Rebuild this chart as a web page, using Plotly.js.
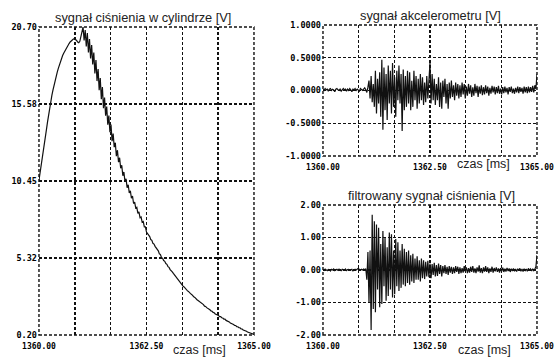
<!DOCTYPE html>
<html>
<head>
<meta charset="utf-8">
<script src="https://cdn.plot.ly/plotly-3.0.1.min.js"></script>
<style>html,body{margin:0;padding:0;background:#fff;}#chart{width:556px;height:359px;}</style>
</head>
<body>
<div id="chart"></div>
<script>
// sample start time [ms] and sample step [ms]
const T0 = 1360.0;
const DT = 0.025;

const titles = ["sygnał ciśnienia w cylindrze [V]", "sygnał akcelerometru [V]", "filtrowany sygnał ciśnienia [V]"];
const xLabel = "czas [ms]";

const xTickVals = [1360, 1360.8333, 1361.6667, 1362.5, 1363.3333, 1364.1667, 1365];
const xTickText = ["1360.00", "", "", "1362.50", "", "", "1365.00"];

const pTickVals = [0.20, 5.325, 10.45, 15.575, 20.70];
const pTickText = ["0.20", "5.32", "10.45", "15.58", "20.70"];
const aTickVals = [-1, -0.5, 0, 0.5, 1];
const aTickText = ["-1.0000", "-0.5000", "0.0000", "0.5000", "1.0000"];
const fTickVals = [-2, -1, 0, 1, 2];
const fTickText = ["-2.00", "-1.00", "0.00", "1.00", "2.00"];

// cylinder pressure signal [V]
const pressure = [
  10.5, 10.95, 11.4, 11.9, 12.4, 12.9, 13.4, 13.9, 14.4, 14.9,
  15.35, 15.75, 16.15, 16.5, 16.85, 17.15, 17.45, 17.7, 17.95, 18.2,
  18.4, 18.6, 18.8, 18.95, 19.1, 19.25, 19.4, 19.5, 19.6, 19.7,
  19.78, 19.85, 19.9, 19.92, 19.88, 19.8, 19.7, 19.65, 19.75, 20.1,
  20.5, 20.7, 19.8, 20.5, 19.4, 20.3, 19.0, 19.9, 18.6, 19.5,
  18.2, 19.0, 17.6, 18.5, 17.1, 17.9, 16.5, 17.3, 15.9, 16.7,
  15.3, 16.0, 14.8, 15.4, 14.2, 14.8, 13.7, 14.2, 13.1, 13.6,
  12.7, 13.0, 12.1, 12.5, 11.7, 12.0, 11.3, 11.5, 10.8, 11.05,
  10.4, 10.6, 10.0, 10.2, 9.65, 9.8, 9.3, 9.45, 8.95, 9.05,
  8.65, 8.7, 8.3, 8.4, 8.0, 8.05, 7.7, 7.75, 7.4, 7.4,
  7.05, 6.95, 6.8, 6.75, 6.55, 6.5, 6.3, 6.25, 6.1, 6.0,
  5.85, 5.8, 5.6, 5.55, 5.35, 5.3, 5.15, 5.1, 4.95, 4.9,
  4.75, 4.7, 4.55, 4.5, 4.4, 4.3, 4.2, 4.15, 4.0, 3.95,
  3.8, 3.75, 3.6, 3.55, 3.45, 3.4, 3.3, 3.25, 3.15, 3.1,
  3.0, 2.95, 2.9, 2.8, 2.75, 2.7, 2.6, 2.55, 2.5, 2.45,
  2.38, 2.35, 2.25, 2.22, 2.12, 2.1, 2.02, 1.98, 1.9, 1.88,
  1.8, 1.78, 1.7, 1.68, 1.6, 1.58, 1.52, 1.5, 1.42, 1.42,
  1.35, 1.33, 1.25, 1.25, 1.17, 1.15, 1.08, 1.07, 1.0, 0.98,
  0.92, 0.9, 0.84, 0.83, 0.76, 0.75, 0.68, 0.68, 0.6, 0.6,
  0.53, 0.52, 0.46, 0.45, 0.4, 0.38, 0.33, 0.32, 0.28, 0.27,
  0.24
];

// accelerometer signal [V]
const accel = [
  0.02, 0.00, 0.03, 0.01, 0.02, -0.01, 0.02, 0.03, 0.00, 0.02,
  0.01, -0.02, 0.02, 0.03, 0.01, 0.00, 0.02, -0.01, 0.01, 0.03,
  0.01, 0.02, -0.01, 0.02, 0.00, 0.03, 0.01, -0.02, 0.02, 0.01,
  0.03, 0.00, 0.02, 0.01, -0.01, 0.03, 0.02, 0.00, 0.02, 0.04,
  0.01, -0.03, 0.05, 0.15, -0.12, 0.22, -0.18, 0.10, -0.25, 0.30,
  -0.35, 0.18, -0.20, 0.28, -0.40, 0.47, -0.60, 0.35, -0.30, 0.25,
  -0.45, 0.38, -0.20, 0.30, -0.35, 0.42, -0.25, 0.20, -0.40, 0.30,
  -0.15, 0.38, -0.20, 0.25, -0.62, 0.32, -0.30, 0.22, -0.25, 0.30,
  -0.20, 0.28, -0.30, 0.15, -0.25, 0.30, -0.15, 0.22, -0.28, 0.18,
  -0.20, 0.25, -0.15, 0.20, -0.22, 0.12, -0.18, 0.22, -0.12, 0.15,
  0.42, -0.20, 0.25, -0.15, 0.18, -0.22, 0.10, -0.15, 0.20, -0.25,
  0.12, -0.28, 0.15, -0.10, 0.18, -0.20, 0.10, -0.28, 0.12, -0.12,
  0.15, -0.10, 0.08, -0.15, 0.12, -0.08, 0.10, -0.12, 0.08, -0.10,
  0.12, -0.06, 0.10, -0.12, 0.06, -0.08, 0.10, -0.05, 0.08, -0.10,
  0.05, -0.08, 0.10, -0.04, 0.07, -0.10, 0.06, -0.05, 0.08, -0.07,
  0.05, -0.06, 0.08, -0.04, 0.06, -0.08, 0.04, -0.05, 0.07, -0.03,
  0.06, -0.06, 0.05, -0.04, 0.07, -0.05, 0.03, -0.06, 0.05, -0.04,
  0.06, -0.03, 0.04, -0.06, 0.05, -0.02, 0.06, -0.04, 0.03, -0.05,
  0.04, -0.03, 0.06, -0.04, 0.05, -0.02, 0.04, -0.05, 0.06, -0.03,
  0.05, -0.04, 0.06, -0.03, 0.05, -0.02, 0.07, -0.03, 0.08, 0.02,
  0.25
];

// filtered pressure signal [V]
const filtered = [
  0.02, -0.01, 0.03, 0.00, -0.02, 0.02, 0.01, -0.03, 0.02, 0.00,
  0.03, -0.02, 0.01, 0.02, -0.01, 0.03, 0.00, -0.02, 0.02, 0.01,
  -0.01, 0.03, -0.02, 0.01, 0.02, -0.01, 0.00, 0.02, -0.03, 0.01,
  0.02, 0.00, 0.03, 0.05, 0.02, -0.01, 0.02, 0.00, 0.03, 0.01,
  0.04, -0.30, 0.55, -1.00, 0.60, -1.85, 1.70, -1.20, 1.50, -1.30,
  1.40, -0.60, 1.30, -1.15, 0.80, -1.05, 1.20, -0.50, 1.00, -0.95,
  0.70, -0.80, 1.15, -0.60, 1.10, -0.85, 0.60, -0.75, 0.95, -0.50,
  0.85, -0.65, 0.60, -0.55, 0.80, -0.45, 0.65, -0.50, 0.55, -0.40,
  0.60, -0.45, 0.45, -0.35, 0.50, -0.40, 0.35, -0.30, 0.42, -0.30,
  0.30, -0.35, 0.35, -0.25, 0.30, -0.28, 0.25, -0.20, 0.28, -0.22,
  0.20, -0.25, 0.18, -0.15, 0.22, -0.20, 0.15, -0.18, 0.20, -0.12,
  0.15, -0.20, 0.12, -0.10, 0.15, -0.12, 0.10, -0.15, 0.12, -0.08,
  0.10, -0.12, 0.08, -0.10, 0.12, -0.06, 0.10, -0.12, 0.08, -0.10,
  0.06, -0.08, 0.12, -0.05, 0.08, -0.10, 0.06, -0.08, 0.10, -0.06,
  0.12, -0.08, 0.05, -0.10, 0.08, -0.05, 0.14, -0.08, 0.06, -0.10,
  0.08, -0.05, 0.12, -0.06, 0.08, -0.10, 0.05, -0.06, 0.10, -0.08,
  0.06, -0.04, 0.08, -0.06, 0.05, -0.08, 0.06, -0.04, 0.07, -0.06,
  0.04, -0.05, 0.06, -0.03, 0.05, -0.06, 0.04, -0.03, 0.05, -0.04,
  0.03, -0.05, 0.04, -0.02, 0.05, -0.04, 0.03, -0.05, 0.04, -0.02,
  0.03, -0.04, 0.05, -0.02, 0.03, -0.03, 0.04, -0.02, 0.03, 0.10,
  0.45
];

const lineStyle = {color: '#111', width: 1.2};
const traces = [
  {type: 'scatter', mode: 'lines', y: pressure, x0: T0, dx: DT, xaxis: 'x', yaxis: 'y', line: lineStyle, hoverinfo: 'skip'},
  {type: 'scatter', mode: 'lines', y: accel, x0: T0, dx: DT, xaxis: 'x2', yaxis: 'y2', line: lineStyle, hoverinfo: 'skip'},
  {type: 'scatter', mode: 'lines', y: filtered, x0: T0, dx: DT, xaxis: 'x3', yaxis: 'y3', line: lineStyle, hoverinfo: 'skip'}
];

const xTickFont = {family: 'DejaVu Sans Mono', size: 8, color: '#000', weight: 'bold'};
const yTickFont = {family: 'DejaVu Sans Mono', size: 8.5, color: '#000', weight: 'bold'};
const gridCol = '#111';
function xAx(anchor, domain) {
  return {domain: domain, anchor: anchor, range: [1360, 1365], tickmode: 'array',
    tickvals: xTickVals, ticktext: xTickText, showgrid: true, gridcolor: gridCol,
    griddash: '3px,2px', gridwidth: 1.4, zeroline: false, showline: false, ticks: '',
    tickfont: xTickFont, ticklabelstandoff: 5, fixedrange: true};
}
function yAx(anchor, domain, range, vals, text) {
  return {domain: domain, anchor: anchor, range: range, tickmode: 'array',
    tickvals: vals, ticktext: text, showgrid: true, gridcolor: gridCol,
    griddash: '3px,2px', gridwidth: 1.4, zeroline: false, showline: false, ticks: '',
    tickfont: yTickFont, ticklabelstandoff: 1, fixedrange: true};
}

const titleFont = {family: 'Liberation Sans, Arial, sans-serif', size: 12.8, color: '#222'};
const labelFont = {family: 'Liberation Sans, Arial, sans-serif', size: 12.5, color: '#222'};
function note(text, x, y, font) {
  return {text: text, xref: 'paper', yref: 'paper', x: x, y: y, xanchor: 'center', yanchor: 'middle', showarrow: false, font: font};
}

const borderLine = {color: gridCol, width: 1.4, dash: '3px,2px'};
function border(xr, yr) {
  return {type: 'rect', xref: xr + ' domain', yref: yr + ' domain', x0: 0, x1: 1, y0: 0, y1: 1, line: borderLine, fillcolor: 'rgba(0,0,0,0)'};
}

const layout = {
  width: 556, height: 359,
  margin: {l: 0, r: 0, t: 0, b: 0},
  paper_bgcolor: '#fff', plot_bgcolor: '#fff',
  showlegend: false,
  xaxis: xAx('y', [0.0701, 0.4568]),
  yaxis: yAx('x', [0.0669, 0.9248], [0.20, 20.70], pTickVals, pTickText),
  xaxis2: xAx('y2', [0.5809, 0.9658]),
  yaxis2: yAx('x2', [0.5655, 0.9304], [-1, 1], aTickVals, aTickText),
  xaxis3: xAx('y3', [0.5809, 0.9658]),
  yaxis3: yAx('x3', [0.0669, 0.4290], [-2, 2], fTickVals, fTickText),
  annotations: [
    note(titles[0], 0.2563, 0.9526, titleFont),
    note(titles[1], 0.7734, 0.9582, titleFont),
    note(titles[2], 0.7761, 0.4568, titleFont),
    note(xLabel, 0.3597, 0.0250, labelFont),
    note(xLabel, 0.8705, 0.5440, labelFont),
    note(xLabel, 0.8714, 0.0250, labelFont)
  ],
  shapes: [border('x', 'y'), border('x2', 'y2'), border('x3', 'y3')]
};

Plotly.newPlot('chart', traces, layout, {displayModeBar: false, staticPlot: true});
</script>
</body>
</html>
